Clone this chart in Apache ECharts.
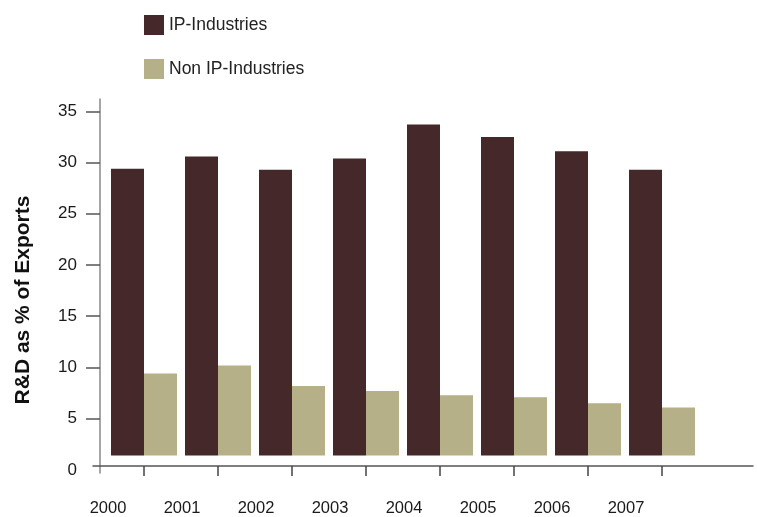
<!DOCTYPE html>
<html>
<head>
<meta charset="utf-8">
<script src="https://cdn.jsdelivr.net/npm/echarts@6/dist/echarts.min.js"></script>
<style>
  html, body { margin: 0; padding: 0; background: #ffffff; }
  #chart { width: 757px; height: 517px; }
</style>
</head>
<body>
<div id="chart"></div>
<script>
// R&D spending as a share of exports, by year
const years = ['2000', '2001', '2002', '2003', '2004', '2005', '2006', '2007'];
const ipIndustries = [29.4, 30.6, 29.3, 30.4, 33.7, 32.5, 31.1, 29.3];
const nonIpIndustries = [9.4, 10.2, 8.2, 7.7, 7.3, 7.1, 6.5, 6.1];
const yTickValues = [0, 5, 10, 15, 20, 25, 30, 35];
// bars rest on a raised floor rather than on zero
const barFloor = 1.4;

const IP_COLOR = '#452829';
const NON_IP_COLOR = '#b5b087';
const SANS = '"Liberation Sans", Arial, sans-serif';

const floorData = years.map(() => barFloor);
const ipSpan = ipIndustries.map(v => +(v - barFloor).toFixed(3));
const nonIpSpan = nonIpIndustries.map(v => +(v - barFloor).toFixed(3));

const chart = echarts.init(document.getElementById('chart'), null, { renderer: 'canvas' });

const floorSeries = (stack) => ({
  type: 'bar', stack: stack, data: floorData, barWidth: 33, barGap: '0%',
  itemStyle: { color: 'rgba(0,0,0,0)' }, silent: true, tooltip: { show: false },
  emphasis: { disabled: true }
});

chart.setOption({
  animation: false,
  backgroundColor: '#ffffff',
  legend: {
    orient: 'vertical',
    left: 139,
    top: 10,
    itemWidth: 20,
    itemHeight: 20,
    itemGap: 24,
    icon: 'rect',
    data: ['IP-Industries', 'Non IP-Industries'],
    textStyle: { fontFamily: SANS, fontSize: 17.5, color: '#222' }
  },
  grid: [
    { left: 107, right: 58, top: 99, bottom: 44 },
    { left: 93, right: 4, top: 99, bottom: 51 }
  ],
  xAxis: [
    {
      type: 'category',
      gridIndex: 0,
      data: years,
      offset: -7,
      axisLine: { show: false, onZero: false },
      axisTick: { show: true, alignWithLabel: true, length: 10, lineStyle: { color: '#444', width: 1.5 } },
      axisLabel: {
        margin: 34,
        padding: [0, 72, 0, 0],
        fontFamily: SANS,
        fontSize: 16.5,
        color: '#1a1a1a'
      },
      splitLine: { show: false }
    },
    {
      type: 'value',
      gridIndex: 1,
      min: 0,
      max: 1,
      axisLine: { show: true, onZero: false, lineStyle: { color: '#555', width: 1.5 } },
      axisTick: { show: false },
      axisLabel: { show: false },
      splitLine: { show: false }
    }
  ],
  yAxis: [
    {
      type: 'value',
      gridIndex: 0,
      min: -0.3,
      max: 36.2,
      offset: 7,
      name: 'R&D as % of Exports',
      nameLocation: 'middle',
      nameRotate: 90,
      nameGap: 66,
      nameTextStyle: {
        fontFamily: SANS,
        fontWeight: 'bold',
        fontSize: 21,
        color: '#111',
        padding: [0, 28, 0, 0]
      },
      axisLine: { show: true, onZero: false, lineStyle: { color: '#888', width: 1.5 } },
      axisTick: {
        show: true, length: 14,
        customValues: yTickValues.filter(v => v > 0),
        lineStyle: { color: '#555', width: 1.5 }
      },
      axisLabel: {
        customValues: yTickValues,
        margin: 23,
        fontFamily: SANS,
        fontSize: 17,
        color: '#1a1a1a'
      },
      splitLine: { show: false }
    },
    {
      type: 'value',
      gridIndex: 1,
      show: false
    }
  ],
  series: [
    floorSeries('ip'),
    {
      name: 'IP-Industries', type: 'bar', stack: 'ip', data: ipSpan,
      barWidth: 33, barGap: '0%', itemStyle: { color: IP_COLOR }
    },
    floorSeries('nonip'),
    {
      name: 'Non IP-Industries', type: 'bar', stack: 'nonip', data: nonIpSpan,
      barWidth: 33, barGap: '0%', itemStyle: { color: NON_IP_COLOR }
    }
  ]
});
</script>
</body>
</html>
